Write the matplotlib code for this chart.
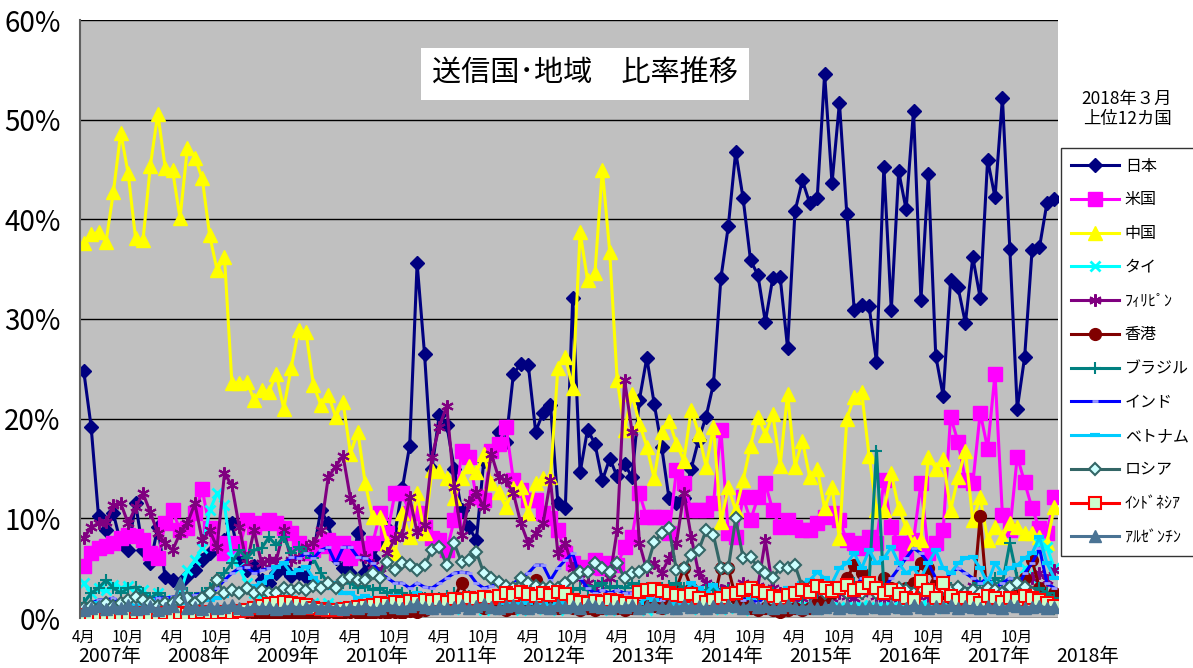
import matplotlib
matplotlib.use('Agg')
import matplotlib.pyplot as plt
from matplotlib.lines import Line2D

plt.rcParams['font.family'] = ['Noto Sans CJK JP', 'DejaVu Sans']

# monthly shares (%), April 2007 .. March 2018, one row per Apr-Mar year
japan = [
    24.8, 19.2, 10.2, 8.8, 10.5, 7.5, 6.8, 11.5, 6.8, 5.5, 9.1, 4.1,
    3.8, 3.5, 4.2, 4.8, 5.8, 6.5, 7.2, 7.8, 9.5, 6.0, 4.8, 5.2,
    3.8, 3.5, 4.5, 5.0, 4.2, 4.5, 4.1, 6.5, 10.8, 9.5, 6.0, 5.0,
    4.5, 8.5, 4.6, 6.0, 7.5, 9.0, 8.5, 13.0, 17.3, 35.6, 26.5, 15.0,
    20.4, 19.4, 15.0, 10.8, 9.1, 7.8, 15.8, 16.5, 18.7, 17.7, 24.5, 25.5,
    25.4, 18.7, 20.6, 21.4, 11.5, 11.0, 32.1, 14.6, 18.9, 17.5, 13.8, 16.0,
    14.2, 15.5, 14.1, 21.9, 26.1, 21.5, 17.2, 12.0, 11.5, 12.0, 15.0, 17.9,
    20.2, 23.5, 34.1, 39.3, 46.8, 42.1, 35.9, 34.4, 29.7, 34.1, 34.2, 27.1,
    40.8, 43.9, 41.6, 42.1, 54.6, 43.6, 51.7, 40.5, 30.9, 31.4, 31.3, 25.7,
    45.3, 30.9, 44.8, 41.0, 50.9, 31.9, 44.5, 26.3, 22.3, 33.9, 33.2, 29.6,
    36.2, 32.1, 46.0, 42.2, 52.2, 37.0, 21.0, 26.2, 36.9, 37.2, 41.6, 42.0,
]
usa = [
    5.2, 6.5, 7.0, 7.2, 7.5, 8.0, 8.3, 8.2, 7.8, 6.5, 6.0, 9.5,
    10.8, 8.8, 9.0, 10.5, 12.9, 9.0, 7.5, 6.5, 7.5, 7.0, 9.8, 9.1,
    9.5, 9.8, 9.5, 9.0, 8.5, 7.5, 6.5, 6.8, 7.2, 7.8, 6.5, 7.5,
    6.0, 7.0, 6.5, 7.5, 10.5, 8.5, 12.5, 12.5, 10.5, 10.5, 9.1, 8.0,
    7.8, 6.8, 9.8, 16.8, 16.2, 12.1, 11.8, 16.8, 17.5, 19.2, 13.8, 12.8,
    11.8, 11.8, 10.5, 10.0, 8.8, 6.5, 5.5, 5.0, 5.1, 5.8, 5.0, 5.5,
    5.3, 7.1, 8.1, 12.5, 10.1, 10.1, 10.1, 8.5, 14.8, 13.5, 10.8, 10.8,
    10.8, 11.5, 18.9, 8.5, 8.1, 12.1, 9.8, 12.1, 13.5, 10.8, 9.1, 9.8,
    9.1, 8.8, 8.8, 9.5, 10.1, 10.5, 9.8, 7.8, 7.5, 7.0, 8.1, 7.5,
    13.8, 9.1, 7.5, 6.5, 7.8, 13.5, 6.5, 7.5, 8.8, 20.2, 17.7, 13.8,
    13.5, 20.6, 17.0, 24.5, 10.3, 8.8, 16.2, 13.6, 11.0, 9.0, 8.5, 12.1,
]
china = [
    37.6, 38.5, 38.7, 37.7, 42.7, 48.7, 44.6, 38.1, 37.9, 45.4, 50.6, 45.2,
    44.9, 40.1, 47.2, 46.2, 44.1, 38.4, 34.9, 36.2, 23.6, 23.6, 23.7, 21.9,
    22.9, 22.7, 24.5, 21.0, 25.1, 28.9, 28.7, 23.4, 21.4, 22.4, 20.2, 21.7,
    16.5, 18.7, 13.5, 10.1, 10.1, 7.5, 6.5, 10.5, 8.1, 12.5, 8.5, 14.8,
    14.7, 14.0, 12.0, 14.0, 15.3, 14.6, 16.5, 13.5, 12.6, 11.1, 13.0, 13.1,
    10.5, 13.5, 14.0, 14.1, 25.1, 26.2, 23.1, 38.7, 33.9, 34.6, 45.0, 36.7,
    23.9, 18.9, 22.5, 19.5, 17.2, 14.0, 18.7, 19.8, 17.5, 15.8, 20.9, 18.5,
    15.2, 19.2, 9.6, 13.1, 10.8, 13.8, 17.3, 20.2, 18.4, 20.5, 15.3, 22.5,
    15.2, 17.8, 14.1, 15.0, 11.0, 13.1, 8.0, 20.0, 22.2, 22.7, 16.3, 10.8,
    10.8, 14.5, 11.0, 9.1, 7.5, 7.8, 16.2, 15.0, 16.0, 10.8, 14.1, 16.8,
    9.8, 12.1, 7.8, 9.1, 8.1, 9.5, 9.1, 8.5, 8.5, 8.1, 7.5, 11.1,
]
thai = [
    3.5, 2.5, 3.0, 2.8, 3.3, 3.0, 3.2, 2.5, 2.8, 2.0, 2.5, 1.5,
    1.8, 2.5, 4.8, 5.8, 7.0, 10.8, 12.5, 11.3, 6.1, 5.0, 3.5, 2.5,
    2.0, 1.8, 1.5, 2.0, 1.8, 1.5, 1.2, 1.5, 1.3, 1.5, 1.2, 1.0,
    1.2, 1.0, 1.3, 1.1, 1.0, 1.2, 1.0, 0.8, 1.0, 1.2, 1.0, 1.1,
    1.0, 1.2, 0.9, 1.0, 1.1, 1.0, 0.8, 1.0, 0.9, 1.1, 1.0, 0.8,
    1.0, 0.9, 1.1, 1.0, 0.8, 1.0, 1.2, 1.0, 0.9, 1.1, 1.0, 0.8,
    0.9, 1.0, 1.2, 1.0, 0.8, 1.0, 1.1, 0.9, 1.0, 1.2, 1.0, 0.9,
    1.0, 1.1, 0.9, 1.0, 1.2, 1.0, 0.8, 1.0, 1.1, 0.9, 1.0, 1.0,
    1.1, 1.2, 1.0, 0.9, 1.0, 1.2, 1.1, 1.0, 1.2, 1.3, 1.1, 1.0,
    1.2, 1.0, 1.3, 1.1, 1.2, 1.4, 1.2, 1.0, 1.3, 1.5, 1.2, 1.4,
    1.5, 1.3, 1.6, 1.4, 1.5, 2.0, 3.0, 5.0, 4.0, 7.5, 7.1, 5.0,
]
philippines = [
    8.0, 9.1, 9.5, 9.6, 11.3, 11.5, 9.5, 11.1, 12.5, 10.6, 8.5, 7.5,
    6.8, 8.5, 9.5, 11.5, 7.8, 8.8, 7.1, 14.5, 13.3, 9.1, 5.5, 8.8,
    5.5, 5.8, 5.8, 8.8, 5.8, 6.1, 7.1, 7.5, 8.8, 14.1, 15.2, 16.3,
    12.0, 10.8, 6.1, 5.3, 4.5, 6.5, 8.0, 8.3, 12.1, 8.6, 9.3, 16.2,
    19.2, 21.3, 13.1, 8.3, 11.6, 12.6, 11.1, 16.5, 14.1, 13.8, 12.5, 9.5,
    7.5, 8.5, 9.5, 13.8, 6.5, 7.5, 5.0, 4.0, 3.5, 3.0, 3.5, 4.0,
    8.8, 23.9, 18.7, 7.5, 4.8, 5.5, 4.5, 6.0, 7.5, 12.5, 8.1, 4.5,
    3.5, 3.0, 2.8, 3.0, 2.5, 3.5, 3.0, 3.2, 7.8, 3.0, 2.5, 2.5,
    2.2, 2.0, 2.5, 2.0, 1.8, 2.0, 2.5, 2.2, 2.0, 2.5, 3.0, 2.2,
    2.0, 2.5, 2.0, 1.8, 3.0, 2.5, 2.2, 2.0, 2.5, 2.8, 3.0, 2.5,
    3.2, 2.5, 2.0, 2.2, 1.8, 3.0, 2.5, 3.5, 4.0, 4.5, 3.8, 4.8,
]
hongkong = [
    0.5, 0.6, 0.5, 0.4, 0.5, 0.6, 0.5, 0.4, 0.5, 0.6, 0.5, 0.4,
    0.5, 0.4, 0.5, 0.6, 0.5, 0.4, 0.5, 0.6, 0.7, 0.8, 0.6, 0.5,
    0.5, 0.4, 0.5, 0.4, 0.3, 0.4, 0.5, 0.4, 0.5, 0.6, 0.5, 0.5,
    0.6, 0.5, 0.4, 0.5, 0.6, 0.5, 0.6, 0.5, 0.7, 0.6, 0.8, 1.0,
    1.2, 1.5, 2.0, 3.5, 1.5, 1.2, 1.0, 1.2, 1.0, 0.8, 1.0, 1.2,
    1.5, 3.8, 1.5, 1.2, 1.0, 1.2, 1.0, 0.8, 1.0, 0.8, 1.0, 1.2,
    1.0, 0.8, 1.0, 1.2, 1.5, 1.2, 1.0, 2.0, 3.0, 5.0, 3.0, 1.5,
    1.2, 1.5, 5.0, 5.0, 2.0, 1.5, 1.0, 0.8, 1.0, 0.8, 0.6, 0.8,
    1.0, 0.8, 1.0, 1.5, 2.0, 2.5, 3.0, 4.0, 5.3, 4.5, 3.5, 3.0,
    4.0, 3.0, 2.5, 3.0, 3.5, 5.5, 5.0, 3.5, 2.5, 2.0, 1.5, 1.5,
    1.5, 10.2, 1.5, 2.0, 1.5, 2.5, 3.0, 4.0, 5.8, 3.0, 2.0, 2.5,
]
brazil = [
    1.5, 2.5, 3.0, 3.8, 3.0, 2.5, 3.0, 3.1, 2.5, 2.0, 2.5, 2.0,
    1.5, 2.0, 2.5, 2.0, 2.5, 3.0, 4.0, 4.5, 5.5, 6.8, 6.0, 6.8,
    7.0, 8.1, 7.3, 8.1, 6.5, 7.1, 6.5, 6.0, 4.5, 3.5, 3.0, 3.5,
    3.5, 3.0, 3.2, 2.8, 3.0, 2.5, 2.8, 2.5, 2.2, 2.5, 2.0, 2.2,
    2.0, 2.2, 2.5, 2.0, 2.2, 2.0, 1.8, 2.0, 2.2, 2.0, 1.8, 2.0,
    2.2, 2.0, 2.5, 2.2, 2.0, 2.5, 2.8, 3.0, 2.8, 3.2, 3.5, 3.0,
    3.2, 3.0, 3.5, 3.2, 3.0, 2.8, 3.0, 3.2, 3.5, 3.0, 2.8, 2.5,
    2.8, 3.0, 2.5, 2.8, 2.5, 2.2, 2.5, 2.0, 2.2, 2.5, 2.0, 2.2,
    2.5, 2.0, 2.2, 2.5, 2.8, 3.0, 2.8, 3.0, 3.5, 3.0, 3.5, 16.8,
    3.0, 2.5, 2.8, 3.0, 2.5, 2.8, 3.0, 2.5, 2.8, 3.0, 2.8, 2.5,
    3.0, 3.5, 3.0, 4.0, 3.5, 7.5, 4.0, 3.0, 2.5, 3.0, 2.5, 2.0,
]
india = [
    1.0, 1.5, 1.8, 1.8, 2.0, 1.5, 1.8, 2.0, 1.5, 1.8, 2.0, 2.0,
    2.1, 2.2, 2.0, 2.3, 2.5, 2.1, 3.0, 3.8, 4.5, 5.0, 5.1, 4.5,
    4.8, 5.0, 5.1, 5.5, 6.1, 6.0, 6.5, 6.0, 6.8, 7.1, 5.5, 7.1,
    7.1, 6.1, 6.0, 5.5, 4.5, 4.0, 3.5, 3.5, 3.0, 3.5, 3.1, 3.0,
    3.5, 4.0, 4.5, 4.6, 4.5, 3.5, 3.0, 3.2, 3.5, 3.0, 3.5, 4.0,
    4.5, 5.3, 5.3, 3.8, 5.0, 5.8, 6.5, 4.0, 3.0, 2.5, 2.8, 2.5,
    2.8, 2.5, 2.5, 2.0, 2.2, 2.0, 1.8, 2.0, 1.8, 1.5, 1.8, 1.5,
    1.5, 1.8, 1.5, 2.0, 2.5, 1.8, 2.0, 1.5, 2.2, 2.0, 1.8, 2.5,
    2.5, 3.0, 2.8, 3.5, 2.5, 3.0, 3.5, 2.5, 3.0, 4.0, 3.0, 3.5,
    3.0, 4.0, 5.0, 6.0, 7.0, 6.5, 5.5, 4.0, 3.5, 4.5, 5.0, 4.5,
    4.0, 3.5, 4.0, 3.0, 3.5, 4.0, 3.0, 4.5, 5.5, 7.0, 3.5, 3.0,
]
vietnam = [
    1.0, 1.2, 1.5, 1.2, 1.5, 1.3, 1.5, 1.2, 1.5, 1.8, 1.5, 1.2,
    1.3, 1.5, 1.8, 1.6, 2.0, 1.8, 2.0, 2.2, 2.5, 2.8, 3.0, 3.2,
    3.5, 4.1, 5.1, 5.5, 4.5, 4.8, 5.1, 4.0, 3.5, 3.0, 3.5, 2.5,
    2.5, 2.0, 2.2, 2.0, 1.8, 2.0, 2.2, 1.8, 2.0, 2.5, 2.0, 2.2,
    2.0, 2.2, 1.8, 2.0, 2.5, 1.8, 1.5, 1.8, 2.0, 1.5, 1.8, 1.5,
    1.5, 1.8, 1.5, 1.2, 1.5, 1.5, 1.8, 1.5, 1.0, 1.2, 1.5, 1.8,
    1.2, 1.5, 1.8, 1.5, 2.0, 1.8, 2.5, 2.0, 1.5, 2.5, 3.5, 3.0,
    2.5, 3.3, 2.5, 2.8, 2.0, 2.5, 2.0, 2.5, 3.0, 2.5, 2.0, 3.0,
    3.0, 3.5, 3.8, 4.6, 4.0, 3.5, 5.0, 5.5, 6.5, 5.0, 6.8, 5.5,
    6.0, 7.1, 5.5, 4.5, 5.0, 4.0, 5.5, 6.8, 5.0, 4.5, 5.5, 6.0,
    6.1, 5.0, 3.5, 5.5, 4.5, 5.0, 5.3, 6.0, 6.5, 8.1, 5.5, 4.0,
]
russia = [
    1.0, 1.2, 1.0, 1.5, 1.2, 1.5, 1.8, 2.1, 1.8, 1.5, 1.2, 1.5,
    1.5, 1.8, 2.0, 1.5, 2.0, 2.5, 3.8, 2.5, 2.8, 2.5, 3.0, 2.5,
    2.8, 2.5, 2.5, 3.0, 2.8, 3.0, 2.8, 3.2, 3.0, 3.5, 3.0, 3.8,
    4.1, 3.8, 3.8, 4.5, 4.0, 5.6, 4.8, 5.5, 5.3, 4.8, 5.3, 6.8,
    7.1, 5.3, 7.5, 5.6, 5.8, 6.6, 4.5, 4.0, 3.6, 3.2, 3.0, 4.0,
    3.5, 3.2, 3.0, 3.1, 3.0, 3.5, 4.0, 4.6, 4.6, 5.5, 5.0, 4.6,
    5.5, 4.0, 4.5, 4.6, 5.1, 7.6, 8.5, 9.0, 4.8, 5.0, 6.3, 6.8,
    8.8, 8.3, 5.0, 5.0, 10.0, 6.0, 6.1, 5.1, 4.5, 4.0, 5.1, 5.0,
    5.3, 3.1, 3.0, 3.1, 2.5, 2.8, 3.0, 2.5, 2.8, 2.5, 3.0, 2.5,
    2.8, 2.5, 3.0, 2.8, 2.5, 3.0, 2.8, 2.5, 3.0, 2.8, 3.1, 2.5,
    2.8, 2.5, 3.0, 2.8, 2.5, 3.1, 3.5, 3.1, 2.5, 2.0, 1.5, 1.0,
]
indonesia = [
    0.3, 0.3, 0.4, 0.3, 0.4, 0.3, 0.4, 0.5, 0.4, 0.3, 0.4, 0.5,
    0.4, 0.5, 0.4, 0.5, 0.6, 0.5, 0.5, 0.6, 0.5, 0.7, 0.8, 1.0,
    1.2, 1.4, 1.5, 1.6, 1.5, 1.4, 1.3, 1.0, 0.9, 0.8, 0.8, 0.9,
    1.0, 1.1, 1.2, 1.3, 1.5, 1.4, 1.6, 1.5, 1.7, 1.6, 1.8, 1.7,
    1.8, 1.6, 1.9, 1.8, 2.0, 1.9, 2.1, 2.0, 2.2, 2.5, 2.3, 2.6,
    2.4, 2.2, 2.5, 2.3, 2.6, 2.4, 1.8, 1.6, 1.5, 1.7, 1.6, 1.8,
    1.7, 1.5, 1.4, 2.6, 2.8, 2.9, 2.7, 2.5, 2.3, 2.2, 2.4, 2.0,
    1.6, 1.8, 2.0, 2.4, 2.5, 2.8, 3.0, 2.7, 2.5, 2.2, 2.0, 2.3,
    2.5, 2.8, 2.6, 3.2, 3.0, 2.7, 3.0, 3.3, 2.8, 3.0, 3.5, 3.0,
    2.5, 2.8, 2.4, 2.0, 1.8, 3.7, 2.8, 2.0, 3.5, 2.2, 1.8, 2.0,
    1.8, 1.5, 2.2, 2.0, 1.6, 2.0, 1.8, 2.2, 2.0, 1.8, 1.5, 1.2,
]
argentina = [
    0.8, 1.0, 1.2, 0.9, 1.1, 1.0, 1.3, 0.9, 1.0, 1.2, 0.8, 1.0,
    1.2, 3.5, 1.0, 1.1, 0.9, 1.2, 1.0, 1.1, 1.3, 1.0, 0.9, 1.2,
    1.0, 1.1, 0.9, 1.0, 1.2, 1.0, 1.1, 1.3, 1.0, 1.2, 1.0, 0.9,
    1.1, 1.0, 1.2, 0.9, 1.0, 1.3, 1.1, 1.0, 1.2, 1.4, 1.1, 1.0,
    1.2, 1.0, 1.1, 1.3, 1.0, 1.2, 1.4, 1.1, 1.0, 1.2, 1.3, 1.1,
    1.0, 1.2, 1.1, 1.0, 1.3, 1.1, 1.2, 1.0, 1.4, 1.2, 1.1, 1.0,
    1.2, 1.1, 1.3, 1.0, 1.2, 1.4, 1.1, 1.2, 1.0, 1.3, 1.1, 1.2,
    1.0, 1.2, 1.1, 1.3, 1.2, 1.0, 1.4, 1.1, 1.2, 1.0, 1.1, 1.3,
    1.1, 1.0, 1.2, 1.0, 1.1, 1.3, 1.0, 1.2, 1.1, 1.0, 1.2, 1.1,
    1.0, 1.2, 1.1, 1.0, 1.3, 1.1, 1.0, 1.2, 1.1, 1.3, 1.0, 1.2,
    1.1, 1.0, 1.2, 1.1, 1.0, 1.3, 1.2, 1.0, 1.1, 1.2, 1.0, 1.1,
]

names = ['日本', '米国', '中国', 'タイ', 'ﾌｨﾘﾋﾟﾝ', '香港', 'ブラジル', 'インド',
         'ベトナム', 'ロシア', 'ｲﾝﾄﾞﾈｼｱ', 'ｱﾙｾﾞﾝﾁﾝ']
series = [japan, usa, china, thai, philippines, hongkong, brazil, india,
          vietnam, russia, indonesia, argentina]
month_labels = ['4月', '10月']
year_labels = ['2007年', '2008年', '2009年', '2010年', '2011年', '2012年',
               '2013年', '2014年', '2015年', '2016年', '2017年', '2018年']

styles = [
    dict(color='#000080', marker='D', ms=7),
    dict(color='#FF00FF', marker='s', ms=10),
    dict(color='#FFFF00', marker='^', ms=10),
    dict(color='#00FFFF', marker='x', ms=7, mew=2),
    dict(color='#800080', marker=(6, 2, 0), ms=9, mew=1.5),
    dict(color='#800000', marker='o', ms=8.5),
    dict(color='#008080', marker='+', ms=9, mew=1.5),
    dict(color='#0000FF', marker='_', ms=5, mew=2, mec='#9999FF'),
    dict(color='#00CCFF', marker='_', ms=7, mew=3),
    dict(color='#336666', marker='D', ms=6.5, mfc='#CCFFFF', mew=1.5),
    dict(color='#FF0000', marker='s', ms=9, mfc='#CCFFCC', mew=1.5),
    dict(color='#4A7394', marker='^', ms=9),
]

W, H = 1193, 668
fig = plt.figure(figsize=(W / 100, H / 100), dpi=100)
ax = fig.add_axes([80 / W, 50 / H, 978 / W, 598 / H])
ax.set_facecolor('#C0C0C0')

x = list(range(len(japan)))
handles = []
for name, vals, st in zip(names, series, styles):
    ax.plot(x, vals, lw=2.2, label=name, **st)
    handles.append(Line2D([], [], lw=2.2, **st))

ax.set_xlim(-0.5, len(x) - 0.5)
ax.set_ylim(0, 60)
ax.set_yticks(range(0, 61, 10))
ax.set_yticklabels([f'{v}%' for v in range(0, 61, 10)], fontsize=20)
ax.yaxis.grid(True, color='black', lw=1)
ax.set_axisbelow(True)
ax.tick_params(axis='y', length=0, pad=14)
ax.tick_params(axis='x', length=0, pad=8)

xt = list(range(0, len(x), 6))
ax.set_xticks(xt)
ax.set_xticklabels([month_labels[k % 2] for k in range(len(xt))], fontsize=11)

for k, yl in enumerate(year_labels):
    ax.annotate(yl, xy=(12 * k + 3.5, 0), xycoords=('data', 'axes fraction'),
                xytext=(0, -38), textcoords='offset pixels',
                ha='center', va='center', fontsize=14, annotation_clip=False)

for side in ['top', 'right', 'bottom']:
    ax.spines[side].set_visible(False)
ax.spines['left'].set_color('#606060')
ax.spines['left'].set_linewidth(1.5)

ax.text(0.516, 0.91, '送信国･地域　比率推移', transform=ax.transAxes,
        ha='center', va='center', fontsize=21,
        bbox=dict(facecolor='white', edgecolor='none', pad=8))

fig.text(1127 / W, 1 - 109 / H, '2018年３月\n上位12カ国', ha='center',
         va='center', fontsize=12.5, linespacing=1.2)

leg = fig.legend(handles, names, loc='upper left',
                 bbox_to_anchor=(1061 / W, 1 - 148 / H),
                 bbox_transform=fig.transFigure, fontsize=11.5,
                 frameon=True, fancybox=False, edgecolor='black',
                 labelspacing=1.05, handlelength=3.0, borderaxespad=0,
                 borderpad=0.6, handletextpad=0.4)
leg.get_frame().set_linewidth(1)

plt.savefig('out.png', dpi=100)
